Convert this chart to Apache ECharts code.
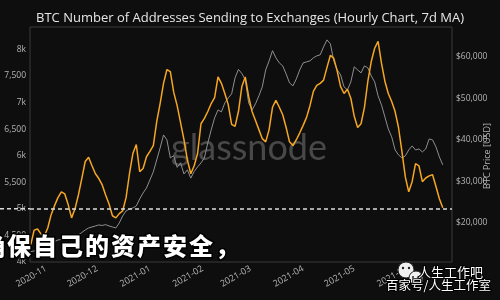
<!DOCTYPE html>
<html><head><meta charset="utf-8">
<script src="https://cdn.jsdelivr.net/npm/echarts@6/dist/echarts.min.js"></script>
<style>html,body{margin:0;padding:0;background:#0e0e0e}#c{width:500px;height:300px}</style>
</head><body><div id="c"></div>
<script>
// ---- data ----
const titleText = 'BTC Number of Addresses Sending to Exchanges (Hourly Chart, 7d MA)';
const rightAxisName = 'BTC Price [USD]';
const watermark = 'glassnode';
const overlayText = '确保自己的资产安全，';
const brandLine1 = '人生工作吧';
const brandLine2 = '百家号/人生工作室';
// samples every 2 days starting 2020-10-23
const startDate = [2020, 9, 23];
const stepDays = 2;
const addresses = [
  4320, 4600, 4620, 4530, 4490, 4640, 4890, 5060, 5210, 5320,
  5280, 5080, 4830, 5000, 5260, 5570, 5890, 5970, 5810, 5660,
  5570, 5450, 5260, 5090, 4870, 4830, 4910, 4960, 5210, 5660,
  6040, 6210, 5700, 5760, 5980, 6080, 6190, 6640, 6980, 7360,
  7620, 7580, 7190, 6940, 6620, 6300, 5920, 5660, 5810, 6040,
  6600, 6700, 6830, 6980, 7090, 7480, 7360, 7170, 6960, 6590,
  6550, 6830, 7300, 7480, 7110, 6830, 6660, 6490, 6320, 6260,
  6490, 6910, 7040, 6910, 6770, 6530, 6260, 6190, 6300, 6430,
  6570, 6720, 6940, 7210, 7320, 7360, 7420, 7660, 7890, 7830,
  7590, 7300, 7170, 7250, 7080, 6740, 6530, 6600, 6910, 7400,
  7770, 8020, 8150, 7740, 7400, 7170, 7020, 6830, 6530, 6080,
  5600, 5320, 5510, 5850, 5810, 5510, 5580, 5620, 5640, 5420,
  5190, 5020
];
const price = [
  13100, 13250, 13500, 13730, 14100, 14450, 15180, 15540, 15900, 16020,
  16260, 16400, 16630, 16750, 17100, 17710, 18310, 18800, 19040, 19280,
  19520, 19400, 19600, 19280, 19040, 18800, 20000, 21690, 22900, 23370,
  23600, 24100, 25780, 27230, 28430, 30360, 32290, 35180, 38080, 41200,
  40000, 35670, 36200, 33400, 34500, 31800, 32800, 30800, 32400, 33500,
  34460, 35670, 39280, 42410, 45300, 47230, 46750, 48920, 50120, 51090,
  54940, 57000, 56000, 54460, 48920, 47230, 48680, 50610, 52780, 56870,
  59040, 61500, 59770, 58560, 57840, 55910, 53740, 53020, 54700, 56870,
  58560, 58800, 59040, 59770, 60250, 60490, 62420, 64100, 63140, 59040,
  56870, 55670, 52780, 52050, 53980, 57600, 56870, 56150, 57840, 57360,
  55430, 53980, 50610, 48440, 45550, 42650, 40730, 37600, 36390, 35670,
  36150, 37590, 38560, 37590, 37830, 37110, 37830, 40240, 40000, 38320,
  35910, 33980
];
const refLine = 5000;
const xMin = [2020, 9, 22, 14];
const xMax = [2021, 5, 27, 10];
const leftMin = 4000, leftMax = 8420, leftStep = 500;
const rightMin = 10600, rightMax = 67200, rightStep = 10000;

// ---- build ----
const dates = addresses.map((_, i) => new Date(startDate[0], startDate[1], startDate[2] + i * stepDays).getTime());
const FONT = 'Open Sans';
const chart = echarts.init(document.getElementById('c'));
const labelColor = '#b4b4b4';
const dashStyle = { stroke: '#dcdcdc', lineWidth: 1.5, lineDash: [4, 3] };

const graphics = [
  { type: 'text', z: 0, x: 249, y: 148,
    style: { text: watermark, fontSize: 36, fontFamily: 'Lato', fill: 'rgba(120,120,120,0.55)', align: 'center', verticalAlign: 'middle' } },
  { type: 'text', x: 487, y: 156, rotation: Math.PI / 2,
    style: { text: rightAxisName, fontSize: 9, fontFamily: FONT, fill: labelColor, align: 'center', verticalAlign: 'middle' } }
];
Array.from(overlayText).forEach((ch, i) => {
  graphics.push({ type: 'text', z: 100, x: -7 + 26 * i, y: 246,
    style: { text: ch, fontSize: 24, fontWeight: 900, fontFamily: 'Noto Sans CJK SC', fill: '#ffffff',
      stroke: '#000', lineWidth: 3, align: 'center', verticalAlign: 'middle' } });
});
// WeChat-style badge
graphics.push(
  { type: 'circle', z: 100, shape: { cx: 406, cy: 270, r: 8 }, style: { fill: '#f0f0f0', stroke: '#222', lineWidth: 1 } },
  { type: 'circle', z: 101, shape: { cx: 416, cy: 278, r: 7 }, style: { fill: '#f0f0f0', stroke: '#222', lineWidth: 1 } },
  { type: 'circle', z: 102, shape: { cx: 403, cy: 268, r: 1.2 }, style: { fill: '#222' } },
  { type: 'circle', z: 102, shape: { cx: 409, cy: 268, r: 1.2 }, style: { fill: '#222' } },
  { type: 'circle', z: 102, shape: { cx: 413, cy: 277, r: 1 }, style: { fill: '#222' } },
  { type: 'circle', z: 102, shape: { cx: 419, cy: 277, r: 1 }, style: { fill: '#222' } },
  { type: 'text', z: 103, x: 418, y: 272,
    style: { text: brandLine1, fontSize: 13, fontFamily: 'Noto Sans CJK SC', fill: '#fff', stroke: '#000', lineWidth: 2, align: 'left', verticalAlign: 'middle' } },
  { type: 'text', z: 103, x: 386, y: 285,
    style: { text: brandLine2, fontSize: 12.5, fontFamily: 'Noto Sans CJK SC', fill: '#fff', stroke: '#000', lineWidth: 2, align: 'left', verticalAlign: 'middle' } }
);

chart.setOption({
  backgroundColor: '#0e0e0e',
  animation: false,
  title: { text: titleText, left: 'center', top: 7,
    textStyle: { color: '#e6e6e6', fontSize: 13, fontWeight: 'normal', fontFamily: FONT } },
  grid: { left: 30, right: 48, top: 27, bottom: 38, show: true, borderColor: '#3a3a3a', borderWidth: 1, backgroundColor: 'transparent' },
  xAxis: {
    type: 'time',
    min: new Date(...xMin).getTime(), max: new Date(...xMax).getTime(),
    minInterval: 28 * 86400000, maxInterval: 31 * 86400000,
    axisLine: { show: false }, axisTick: { show: false }, splitLine: { show: false },
    axisLabel: { color: labelColor, fontSize: 9, fontFamily: FONT, rotate: 30, margin: 6,
      showMinLabel: false, showMaxLabel: false, hideOverlap: false,
      formatter: v => echarts.time.format(v, '{yyyy}-{MM}', false) }
  },
  yAxis: [
    { type: 'value', position: 'left', min: leftMin, max: leftMax, interval: leftStep,
      axisLine: { show: false }, axisTick: { show: false }, splitLine: { show: false },
      axisLabel: { color: labelColor, fontSize: 8.5, fontFamily: FONT, margin: 4, showMinLabel: true, showMaxLabel: false, hideOverlap: false,
        formatter: v => (v % leftStep !== 0 ? '' : v % 1000 === 0 ? (v / 1000) + 'k' : v.toLocaleString('en-US')) } },
    { type: 'value', position: 'right', min: rightMin, max: rightMax, splitNumber: 6,
      axisLine: { show: false }, axisTick: { show: false }, splitLine: { show: false },
      axisLabel: { color: labelColor, fontSize: 8.5, fontFamily: FONT, margin: 4, showMinLabel: false, showMaxLabel: false,
        formatter: v => (v % rightStep !== 0 ? '' : '$' + v.toLocaleString('en-US')) } }
  ],
  series: [
    { name: 'BTC Price', type: 'line', yAxisIndex: 1, showSymbol: false, z: 2,
      data: dates.map((d, i) => [d, price[i]]),
      lineStyle: { color: '#8e8e8e', width: 1 } },
    { name: 'Addresses', type: 'line', yAxisIndex: 0, showSymbol: false, z: 3,
      data: dates.map((d, i) => [d, addresses[i]]),
      lineStyle: { color: '#f5a623', width: 1.5 },
      markLine: { silent: true, symbol: 'none', label: { show: false },
        lineStyle: { color: '#dcdcdc', type: [4, 3], width: 1.5 }, data: [{ yAxis: refLine }] } }
  ],
  graphic: graphics
});
// extend the reference dashed line across the left label gutter, at the scale position of refLine
const yRef = chart.convertToPixel({ yAxisIndex: 0 }, refLine);
graphics.push({ type: 'line', z: 1, shape: { x1: 0, y1: yRef, x2: 30, y2: yRef }, style: dashStyle });
chart.setOption({ graphic: graphics });
</script></body></html>
